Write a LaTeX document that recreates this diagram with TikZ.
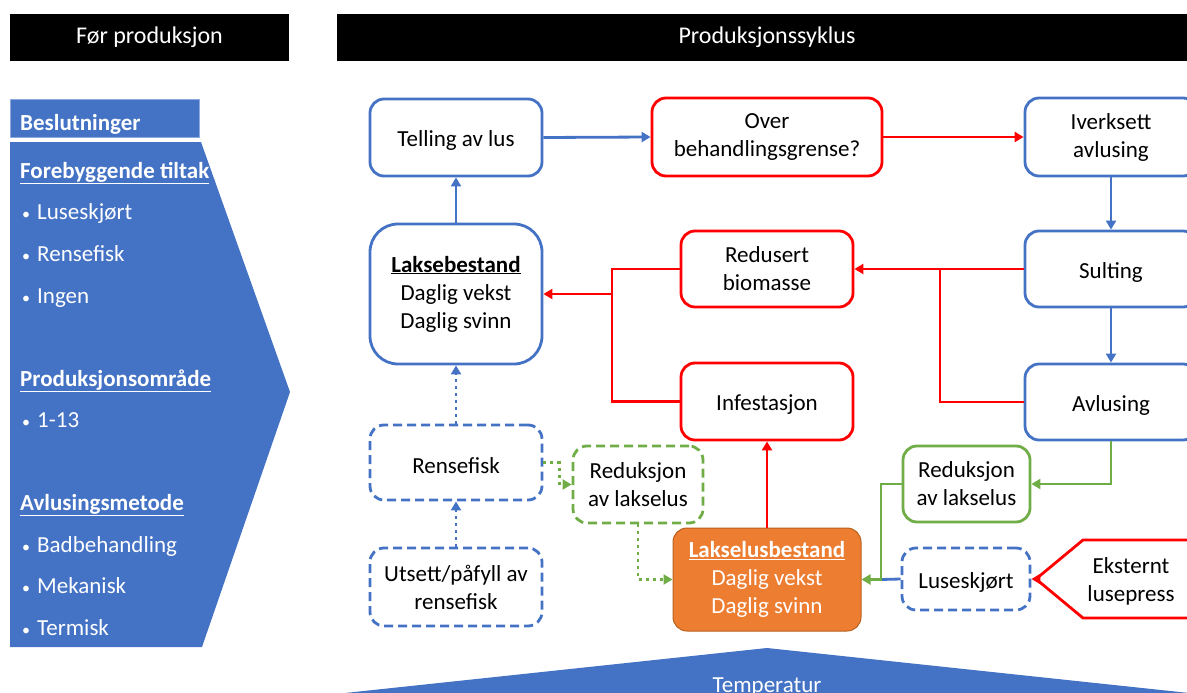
\documentclass[tikz,border=0pt]{standalone}
\usepackage{fontspec}
\setmainfont{Carlito}
\usetikzlibrary{arrows.meta}
\definecolor{cblue}{HTML}{4472C4}
\definecolor{cred}{HTML}{FF0000}
\definecolor{cgreen}{HTML}{70AD47}
\definecolor{corange}{HTML}{ED7D31}
\definecolor{corangedark}{HTML}{B8611F}
\newcommand\fsz{\fontsize{23}{28}\selectfont}
\newcommand\hsz{\fontsize{24}{28}\selectfont}
\newcommand\bul{\makebox[17pt][l]{\hspace{2pt}\fontsize{16}{16}\selectfont •}}
\begin{document}
\begin{tikzpicture}[x=1pt,y=-1pt,
  box/.style={line width=2.8pt, rounded corners=14pt, align=center, font=\fsz, inner sep=0pt, fill=white,
    execute at begin node={\rule{0pt}{22pt}}},
  bluebox/.style={box, draw=cblue},
  redbox/.style={box, draw=cred},
  greenbox/.style={box, draw=cgreen},
  dashbox/.style={dash pattern=on 9pt off 5pt},
  tip/.style={-{Triangle[length=9pt,width=10pt]}},
  conn/.style={line width=2.8pt},
  barrow/.style={conn, draw=cblue, tip},
  rarrow/.style={conn, draw=cred, tip},
  garrow/.style={conn, draw=cgreen, tip},
  rline/.style={conn, draw=cred},
  bline/.style={conn, draw=cblue},
  dotted3/.style={dash pattern=on 3pt off 4pt},
  header/.style={fill=black, text=white, font=\hsz, inner sep=0pt},
  paneltext/.style={anchor=base west, text=white, font=\fsz, inner sep=0pt},
  panelhead/.style={paneltext, font=\fsz\bfseries}
]
\useasboundingbox (0,0) rectangle (1187,693);
\clip (0,0) rectangle (1187,693);

% headers
\node[header, minimum width=279pt, minimum height=47pt] (h1) at (149.5,37.5) {Før produksjon};
\node[header, minimum width=860pt, minimum height=47pt] (h2) at (767,37.5) {Produksjonssyklus};

% left panel
\fill[cblue] (10,142) -- (201,142) -- (290,392) -- (202,647) -- (10,647) -- cycle;
\filldraw[fill=cblue, draw=cblue!60!white, line width=0.8pt] (10,99) rectangle (199,137);
\node[panelhead] (besl) at (20,131) {Beslutninger};
\node[panelhead] (fore) at (20,178) {\underline{Forebyggende tiltak}};
\node[paneltext] (b1) at (20,219) {\bul Luseskjørt};
\node[paneltext] (b2) at (20,261) {\bul Rensefisk};
\node[paneltext] (b3) at (20,303) {\bul Ingen};
\node[panelhead] (prod) at (20,386) {\underline{Produksjonsområde}};
\node[paneltext] (b4) at (20,427) {\bul 1-13};
\node[panelhead] (avm) at (20,510) {\underline{Avlusingsmetode}};
\node[paneltext] (b5) at (20,552) {\bul Badbehandling};
\node[paneltext] (b6) at (20,593) {\bul Mekanisk};
\node[paneltext] (b7) at (20,635) {\bul Termisk};

% temperature triangle
\fill[cblue] (345,693) -- (767,648) -- (1189,693) -- cycle;
\node[text=white, font=\fsz, anchor=base, inner sep=0pt] (temp) at (767,692) {Temperatur};

% nodes
\node[bluebox, minimum width=172pt, minimum height=77pt] (tel) at (456,137.5) {Telling av lus};
\node[redbox, minimum width=230pt, minimum height=78pt] (over) at (767,137) {Over\\behandlingsgrense?};
\node[bluebox, minimum width=172pt, minimum height=78pt] (iver) at (1111,137) {Iverksett\\avlusing};
\node[bluebox, minimum width=172pt, minimum height=76pt] (sult) at (1111,269) {Sulting};
\node[bluebox, minimum width=172pt, minimum height=76pt] (avl) at (1111,402) {Avlusing};
\node[redbox, minimum width=172pt, minimum height=76pt] (red) at (767,269) {Redusert\\biomasse};
\node[redbox, minimum width=172pt, minimum height=77pt] (inf) at (767,401.5) {Infestasjon};
\node[bluebox, rounded corners=28pt, minimum width=172pt, minimum height=140pt] (laks) at (456,294) {\underline{\textbf{Laksebestand}}\\Daglig vekst\\Daglig svinn};
\node[bluebox, dashbox, minimum width=172pt, minimum height=75pt] (rens) at (456,462.5) {Rensefisk};
\node[bluebox, dashbox, minimum width=172pt, minimum height=78pt] (utse) at (456,587) {Utsett/påfyll av\\rensefisk};
\node[greenbox, dashbox, minimum width=130pt, minimum height=77pt] (redA) at (638,484.5) {Reduksjon\\av lakselus};
\node[box, draw=corangedark, line width=1pt, fill=corange, text=white, minimum width=188pt, minimum height=103pt] (lus) at (767,579.5) {\underline{\textbf{Lakselusbestand}}\\Daglig vekst\\Daglig svinn};
\node[greenbox, minimum width=127pt, minimum height=76pt] (redB) at (966.5,484) {Reduksjon\\av lakselus};
\node[bluebox, dashbox, minimum width=128pt, minimum height=62pt] (skj) at (966,579) {Luseskjørt};

% external pressure shape
\draw[draw=cred, line width=2.8pt, line join=miter] (1036,579) -- (1083,540) -- (1200,540) -- (1200,618) -- (1083,618) -- cycle;
\coordinate (ekstip) at (1036,579);
\node[font=\fsz, align=center, inner sep=0pt] (eks) at (1131,581) {Eksternt\\lusepress};

% connectors
\draw[barrow] (tel.east) -- (over.west);
\draw[rarrow] (over.east) -- (iver.west);
\draw[barrow] (iver.south) -- (sult.north);
\draw[barrow] (sult.south) -- (avl.north);
\draw[rarrow] (sult.west) -- (red.east);
\coordinate (j1) at (940,269);
\draw[rline] (avl.west) -| (j1);
\coordinate (j2) at (612,294);
\draw[rline] (red.west) -| (j2) |- (inf.west);
\draw[rarrow] (j2) -- (laks.east);
\draw[barrow] (laks.north) -- (tel.south);
\draw[rarrow] (lus.north) -- (inf.south);
\draw[barrow, dotted3] (rens.north) -- (laks.south);
\draw[barrow, dotted3] (utse.north) -- (rens.south);
\draw[garrow, dotted3] (rens.east) -- ++(16,0) |- (redA.west);
\draw[garrow, dotted3] (redA.south) |- (lus.west);
\draw[garrow] (avl.south) |- (redB.east);
\coordinate (j3) at (881,579.5);
\draw[bline] (skj.west) -- (j3);
\draw[garrow] (redB.west) -| (j3) -- (lus.east);
\draw[rarrow] (ekstip) -- (skj.east);
\end{tikzpicture}
\end{document}
